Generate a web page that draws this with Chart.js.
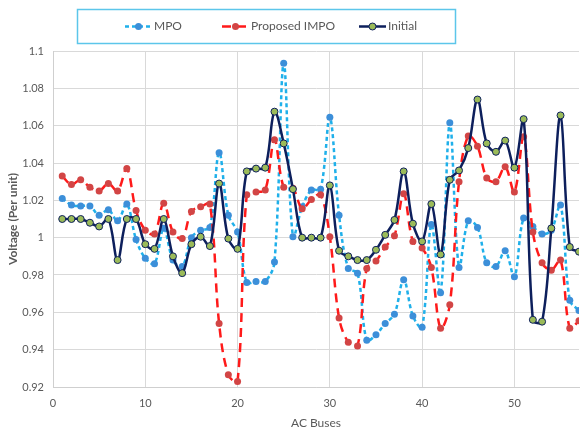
<!DOCTYPE html>
<html>
<head>
<meta charset="utf-8">
<script src="https://cdn.jsdelivr.net/npm/chart.js@4/dist/chart.umd.min.js"></script>
<style>
html,body{margin:0;padding:0;background:#fff;}
#wrap{width:584px;height:430px;position:relative;}
</style>
</head>
<body>
<div id="wrap"><canvas id="c" width="584" height="430"></canvas></div>
<script>
const buses = [1,2,3,4,5,6,7,8,9,10,11,12,13,14,15,16,17,18,19,20,21,22,23,24,25,26,27,28,29,30,31,32,33,34,35,36,37,38,39,40,41,42,43,44,45,46,47,48,49,50,51,52,53,54,55,56,57];

const mpo = [1.021,1.0175,1.017,1.017,1.012,1.015,1.009,1.018,0.999,0.989,
  0.986,1.005,0.988,0.9845,1.000,1.004,1.0055,1.0455,1.012,1.003,
  0.976,0.9765,0.9765,0.987,1.0935,1.0005,1.0165,1.0255,1.026,1.0645,
  1.012,0.9835,0.981,0.945,0.948,0.954,0.959,0.9775,0.958,0.952,
  1.007,0.9705,1.0615,0.984,1.009,1.0055,0.9865,0.9845,0.993,0.979,
  1.0105,1.006,1.002,1.004,1.0175,0.9665,0.961];

const impo = [1.033,1.0285,1.031,1.027,1.025,1.029,1.025,1.037,1.0145,1.004,
  1.002,1.0185,1.003,0.9995,1.014,1.0165,1.018,0.954,0.9265,0.923,
  1.023,1.0245,1.0255,1.0525,1.027,1.0265,1.0155,1.0205,1.023,1.0005,
  0.957,0.944,0.942,0.9835,0.9875,0.995,1.001,1.0235,0.998,0.9945,
  0.984,0.9515,0.964,1.030,1.0545,1.049,1.032,1.030,1.038,1.0245,
  1.054,1.003,0.9865,0.9825,0.988,0.9515,0.9555];

const initial = [1.010,1.010,1.010,1.008,1.006,1.010,0.988,1.010,1.010,0.9965,
  0.994,1.010,0.990,0.981,0.9965,1.0005,0.9955,1.029,0.9995,0.994,
  1.0355,1.037,1.0375,1.0675,1.0505,1.026,1.000,1.000,1.000,1.028,
  0.993,0.990,0.988,0.988,0.9935,1.0015,1.0095,1.0355,1.0075,0.998,
  1.018,0.991,1.031,1.036,1.048,1.074,1.0505,1.046,1.052,1.0375,
  1.0635,0.956,0.955,1.005,1.0655,0.995,0.9925];

const seriesNames = ['MPO','Proposed IMPO','Initial'];
const xTitle = 'AC Buses';
const yTitle = 'Voltage (Per unit)';

const FONT = 'Lato, "Liberation Sans", sans-serif';
const TXT = '#595959';

function pts(vals){ return vals.map((v,i)=>({x:buses[i], y:v})); }

const legendBox = {
  id:'legendBox',
  afterDraw(chart){
    const ctx = chart.ctx;
    ctx.save();
    ctx.strokeStyle = '#5cc6ea';
    ctx.lineWidth = 1.5;
    ctx.strokeRect(77.5, 9.5, 378, 34);
    const items = [125, 222, 359];
    ctx.font = '12px ' + FONT;
    ctx.textBaseline = 'middle';
    ctx.fillStyle = TXT;
    const cy = 26.5;
    chart.data.datasets.forEach((ds, k) => {
      const x0 = items[k];
      ctx.save();
      ctx.strokeStyle = ds.borderColor;
      ctx.lineWidth = ds.borderWidth;
      ctx.setLineDash(ds.borderDash || []);
      ctx.beginPath();
      ctx.moveTo(x0, cy); ctx.lineTo(x0 + 27, cy);
      ctx.stroke();
      ctx.setLineDash([]);
      ctx.beginPath();
      ctx.arc(x0 + 13.5, cy, ds.pointRadius, 0, Math.PI*2);
      ctx.fillStyle = ds.pointBackgroundColor;
      ctx.fill();
      if (ds.pointBorderWidth) {
        ctx.lineWidth = ds.pointBorderWidth;
        ctx.strokeStyle = ds.pointBorderColor;
        ctx.stroke();
      }
      ctx.restore();
      ctx.fillStyle = TXT;
      ctx.fillText(ds.label, x0 + 29, cy);
    });
    ctx.restore();
  }
};

new Chart(document.getElementById('c'), {
  type: 'line',
  data: {
    datasets: [
      {
        label: seriesNames[0], data: pts(mpo), order: 2,
        borderColor: '#1fb0ea', borderWidth: 2.5, borderDash: [4,3],
        pointRadius: 3.5, pointBackgroundColor: '#3c8fd9', pointBorderColor: '#3c8fd9', pointBorderWidth: 0,
        tension: 0.35, fill: false
      },
      {
        label: seriesNames[1], data: pts(impo), order: 1,
        borderColor: '#ff1a1a', borderWidth: 2.5, borderDash: [9,6],
        pointRadius: 3.5, pointBackgroundColor: '#d24545', pointBorderColor: '#d24545', pointBorderWidth: 0,
        tension: 0.35, fill: false
      },
      {
        label: seriesNames[2], data: pts(initial), order: 0,
        borderColor: '#0d1f5c', borderWidth: 2.5,
        pointRadius: 3.5, pointBackgroundColor: '#9bbb59', pointBorderColor: '#0d1f5c', pointBorderWidth: 1,
        tension: 0.35, fill: false
      }
    ]
  },
  options: {
    responsive: false,
    animation: false,
    layout: { padding: { top: 51, right: 2, left: 6, bottom: 0 } },
    plugins: { legend: { display: false }, tooltip: { enabled: false } },
    scales: {
      x: {
        type: 'linear', min: 0, max: 57,
        afterFit: s => { s.height = 43; },
        ticks: { stepSize: 10, includeBounds: false, color: TXT, font: { family: FONT, size: 11 }, padding: 10 },
        grid: { color: '#d9d9d9', drawTicks: false },
        border: { color: '#cfcfcf' },
        title: { display: true, text: xTitle, color: TXT, font: { family: FONT, size: 12 }, padding: { top: 0, bottom: 0 } }
      },
      y: {
        min: 0.92, max: 1.1,
        afterFit: s => { s.width = 47; },
        ticks: { stepSize: 0.02, color: TXT, font: { family: FONT, size: 11 }, padding: 9,
          callback: v => String(parseFloat(Number(v).toFixed(2))) },
        grid: { color: '#d9d9d9', drawTicks: false },
        border: { color: '#cfcfcf' },
        title: { display: true, text: yTitle, color: TXT, font: { family: FONT, size: 12, weight: 'bold' }, padding: { top: 0, bottom: 0 } }
      }
    }
  },
  plugins: [legendBox]
});
</script>
</body>
</html>
